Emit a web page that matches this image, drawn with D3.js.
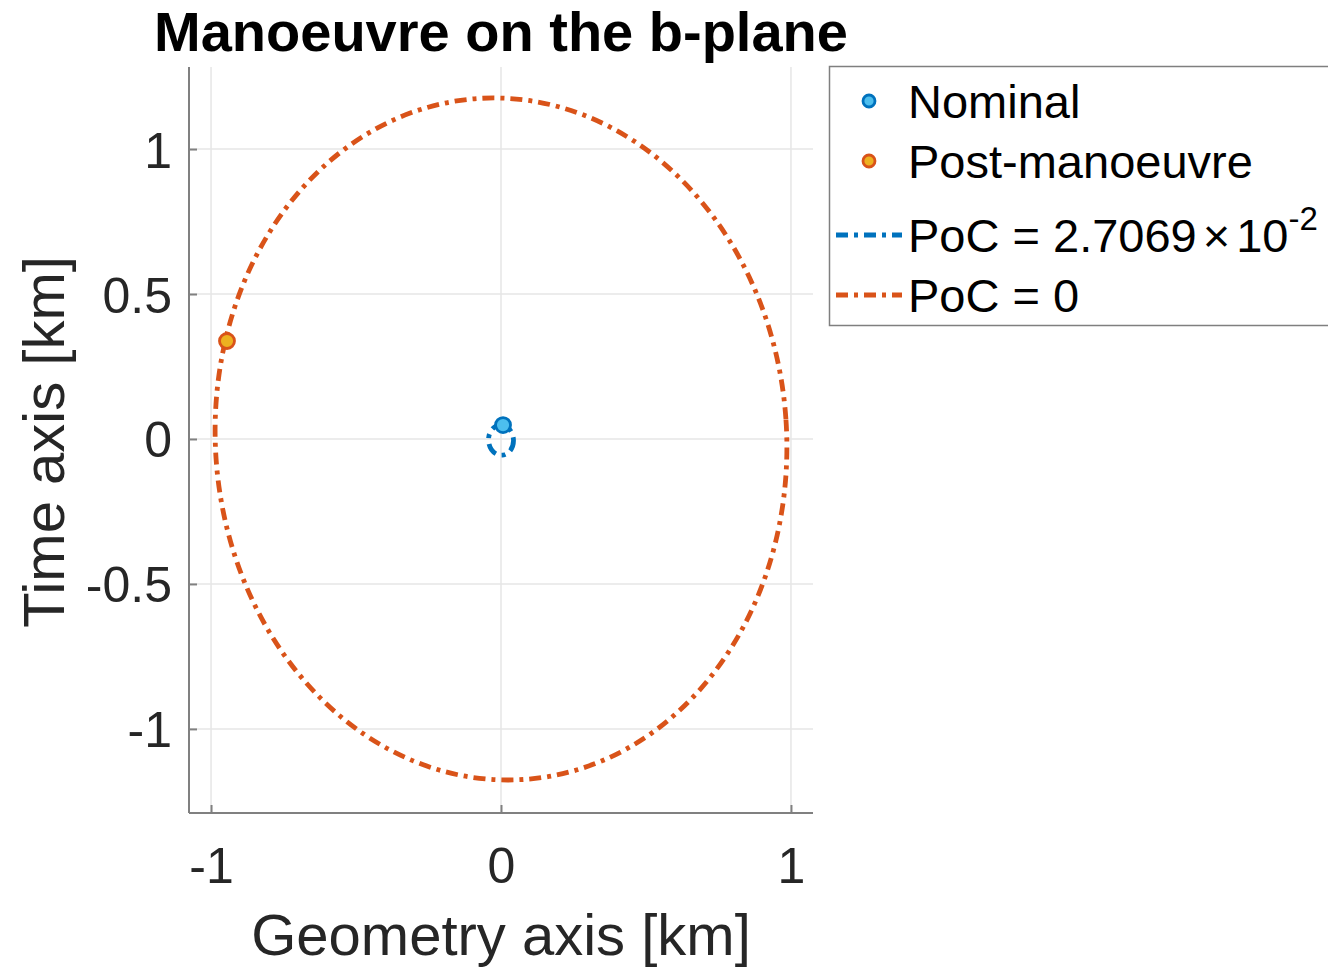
<!DOCTYPE html>
<html>
<head>
<meta charset="utf-8">
<script src="https://cdn.jsdelivr.net/npm/d3@7"></script>
<style>
  html, body { margin: 0; padding: 0; background: #fff; }
  svg { display: block; font-family: "Liberation Sans", Arial, sans-serif; }
</style>
</head>
<body>
<svg id="chart" width="1328" height="967"></svg>
<script>
// Encounter points on the b-plane [km]
const pointNames = ["Nominal", "Post-manoeuvre"];
const pointX = [0.007, -0.945];
const pointY = [0.048, 0.338];

// PoC iso-contours: centre, semi-axes (geometry, time) and tilt [deg]
const contourLabels = ["PoC = 2.7069", "PoC = 0"];
const contourCx = [0.0, 0.0];
const contourCy = [-0.004, 0.0];
const contourA = [0.043, 0.985];
const contourB = [0.052, 1.177];
const contourTilt = [3.9, 3.9];

// Axis ticks
const xTicks = [-1, 0, 1];
const yTicks = [-1, -0.5, 0, 0.5, 1];
const xDomain = [-1.076, 1.076];
const yDomain = [-1.29, 1.283];

const colors = {
  blue: "#0072BD", orange: "#D95319", lightBlue: "#4DBEEE", yellow: "#EDB120",
  text: "#262626", axis: "#808080", grid: "#e6e6e6"
};
const dashDot = "12,6,4,6";
const lineWidth = 4.8;

const svg = d3.select("#chart");
const pL = 189, pR = 813, pT = 67, pB = 813;

const x = d3.scaleLinear().domain(xDomain).range([pL, pR]);
const y = d3.scaleLinear().domain(yDomain).range([pB, pT]);

// grid
const grid = svg.append("g");
grid.selectAll("line.gx").data(xTicks).join("line")
  .attr("x1", d => x(d)).attr("x2", d => x(d))
  .attr("y1", pT).attr("y2", pB)
  .attr("stroke", colors.grid).attr("stroke-width", 1.5);
grid.selectAll("line.gy").data(yTicks).join("line")
  .attr("y1", d => y(d)).attr("y2", d => y(d))
  .attr("x1", pL).attr("x2", pR)
  .attr("stroke", colors.grid).attr("stroke-width", 1.5);

// axes (plain hyphen for negative numbers)
const fmt = d => String(d);
const xAxis = d3.axisBottom(x).tickValues(xTicks).tickSize(-8).tickPadding(34).tickFormat(fmt);
const yAxis = d3.axisLeft(y).tickValues(yTicks).tickSize(-8).tickPadding(17).tickFormat(fmt);

const gx = svg.append("g").attr("transform", `translate(0,${pB})`).call(xAxis);
const gy = svg.append("g").attr("transform", `translate(${pL},0)`).call(yAxis);
[gx, gy].forEach(g => {
  g.select(".domain").attr("stroke", colors.axis).attr("stroke-width", 2);
  g.selectAll(".tick line").attr("stroke", colors.axis).attr("stroke-width", 2);
  g.selectAll(".tick text").attr("fill", colors.text)
    .style("font-size", "50px").style("font-family", "Liberation Sans, Arial, sans-serif");
});
gx.selectAll(".tick text").attr("dy", "0.71em");
gy.selectAll(".tick text").attr("dy", "0.36em");
// axis lines span the full plot box without end ticks
gx.select(".domain").attr("d", `M${pL},0H${pR}`);
gy.select(".domain").attr("d", `M0,${pT}V${pB}`);

// contours
const contourColors = [colors.blue, colors.orange];
const plot = svg.append("g");
const idx = d3.range(contourLabels.length);
plot.selectAll("ellipse.contour").data(idx).join("ellipse")
  .attr("cx", 0).attr("cy", 0)
  .attr("rx", i => x(contourA[i]) - x(0))
  .attr("ry", i => y(0) - y(contourB[i]))
  .attr("transform", i => `translate(${x(contourCx[i])},${y(contourCy[i])}) rotate(${-contourTilt[i]})`)
  .attr("fill", "none")
  .attr("stroke", i => contourColors[i])
  .attr("stroke-width", lineWidth)
  .attr("stroke-dasharray", dashDot);

// points
const pointFill = [colors.lightBlue, colors.yellow];
const pointStroke = [colors.blue, colors.orange];
plot.selectAll("circle.pt").data(d3.range(pointNames.length)).join("circle")
  .attr("cx", i => x(pointX[i])).attr("cy", i => y(pointY[i]))
  .attr("r", 7.5)
  .attr("fill", i => pointFill[i])
  .attr("stroke", i => pointStroke[i])
  .attr("stroke-width", 2.8);

// title and axis labels
svg.append("text").attr("x", (pL + pR) / 2).attr("y", 51)
  .attr("text-anchor", "middle").attr("font-weight", "bold")
  .style("font-size", "56px").attr("fill", "#000")
  .text("Manoeuvre on the b-plane");
svg.append("text").attr("x", (pL + pR) / 2).attr("y", 955)
  .attr("text-anchor", "middle").style("font-size", "58px").attr("fill", colors.text)
  .text("Geometry axis [km]");
svg.append("text")
  .attr("transform", `translate(64,${(pT + pB) / 2 + 2}) rotate(-90)`)
  .attr("text-anchor", "middle").style("font-size", "58px").attr("fill", colors.text)
  .text("Time axis [km]");

// legend
const lg = svg.append("g");
lg.append("rect").attr("x", 829.5).attr("y", 66.5).attr("width", 510).attr("height", 259)
  .attr("fill", "#fff").attr("stroke", "#7f7f7f").attr("stroke-width", 1.5);
const rowY = [101, 161, 235, 295];
const textX = 908;
const legendFont = "47px";
pointNames.forEach((name, i) => {
  lg.append("circle").attr("cx", 869).attr("cy", rowY[i]).attr("r", 6)
    .attr("fill", pointFill[i]).attr("stroke", pointStroke[i]).attr("stroke-width", 2.8);
  lg.append("text").attr("x", textX).attr("y", rowY[i]).attr("dy", "0.36em")
    .style("font-size", legendFont).attr("fill", "#000").text(name);
});
contourLabels.forEach((lab, i) => {
  const ry = rowY[i + 2];
  lg.append("line").attr("x1", 836).attr("x2", 902).attr("y1", ry).attr("y2", ry)
    .attr("stroke", contourColors[i]).attr("stroke-width", lineWidth)
    .attr("stroke-dasharray", dashDot);
  const t = lg.append("text").attr("x", textX).attr("y", ry).attr("dy", "0.36em")
    .style("font-size", legendFont).attr("fill", "#000");
  t.append("tspan").text(lab);
  if (i === 0) {
    t.append("tspan").attr("dx", 6).style("font-weight", "300").text("\u00d7");
    t.append("tspan").attr("dx", 6).text("10");
    t.append("tspan").attr("dy", -22).style("font-size", "33px").text("-2");
  }
});
</script>
</body>
</html>
